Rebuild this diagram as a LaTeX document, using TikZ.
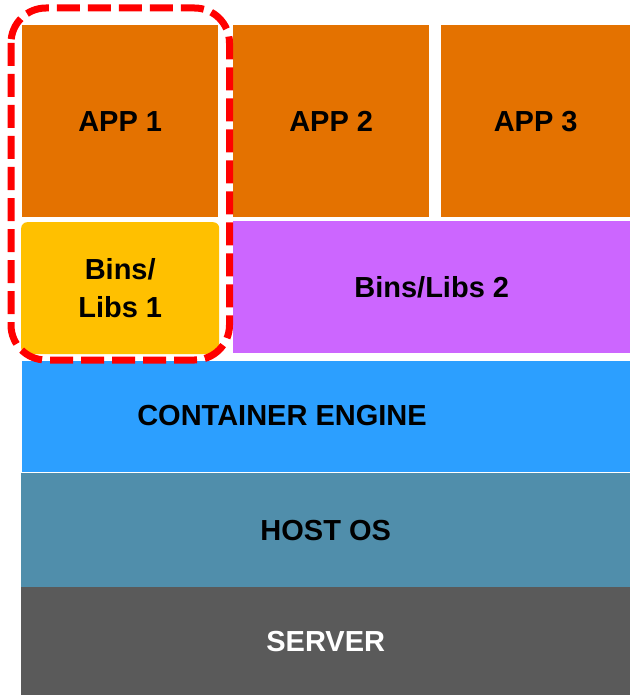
\documentclass[tikz,border=0pt]{standalone}
\usepackage{fontspec}
\setmainfont{Liberation Sans}
\usetikzlibrary{positioning}

\definecolor{apporange}{HTML}{E47200}
\definecolor{libyellow}{HTML}{FFC000}
\definecolor{libpurple}{HTML}{CC66FF}
\definecolor{engineblue}{HTML}{2C9FFF}
\definecolor{osblue}{HTML}{508EAB}
\definecolor{servergrey}{HTML}{5A5A5A}

\begin{document}
\begin{tikzpicture}[x=1pt, y=-1pt,
    layer/.style = {rectangle, inner sep=0pt, anchor=north west, align=center,
                    font=\fontsize{29}{38}\selectfont\bfseries},
    label/.style = {inner sep=0pt, font=\fontsize{29}{38}\selectfont\bfseries}]
  \useasboundingbox[fill=white] (0,0) rectangle (630,695);
  % apps
  \node[layer, fill=apporange, minimum width=196pt, minimum height=192pt] (app1) at (22,25) {APP 1};
  \node[layer, fill=apporange, minimum width=196pt, minimum height=192pt] (app2) at (233,25) {APP 2};
  \node[layer, fill=apporange, minimum width=189pt, minimum height=192pt] (app3) at (441,25) {APP 3};
  % bins and libs
  \node[layer, fill=libyellow, minimum width=198pt, minimum height=132pt, rounded corners=6pt] (bins1) at (21,222) {Bins/\\Libs 1};
  \node[layer, fill=libpurple, minimum width=397pt, minimum height=132pt] (bins2) at (233,221) {Bins/Libs 2};
  % lower layers
  \node[layer, fill=engineblue, minimum width=608pt, minimum height=111pt] (engine) at (22,361) {};
  \node[label] (enginetext) at (282,416) {CONTAINER ENGINE};
  \node[layer, fill=osblue, minimum width=609pt, minimum height=114pt] (hostos) at (21,473) {HOST OS};
  \node[layer, fill=servergrey, text=white, minimum width=609pt, minimum height=108pt] (server) at (21,587) {SERVER};
  % container outline
  \draw[red, line width=7pt, rounded corners=35pt, dash pattern=on 23pt off 8pt]
    (11,8) rectangle (229.5,360);
\end{tikzpicture}
\end{document}
